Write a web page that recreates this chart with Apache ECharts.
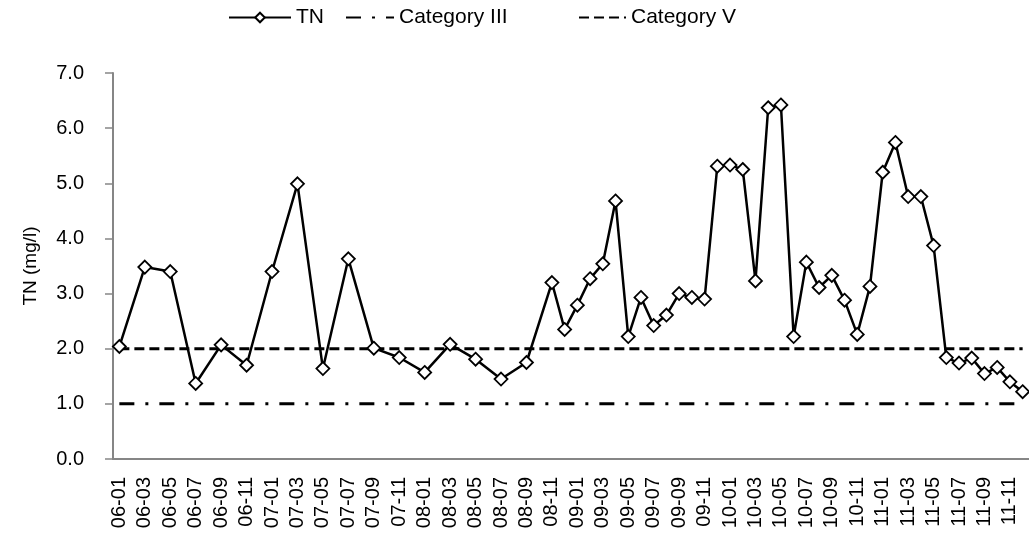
<!DOCTYPE html>
<html>
<head>
<meta charset="utf-8">
<script src="https://cdn.jsdelivr.net/npm/echarts@6/dist/echarts.min.js"></script>
<style>
html,body{margin:0;padding:0;background:#fff;}
#chart{width:1029px;height:533px;}
</style>
</head>
<body>
<div id="chart"></div>
<script>
var categories = [
 '06-01','06-02','06-03','06-04','06-05','06-06','06-07','06-08','06-09','06-10','06-11','06-12',
 '07-01','07-02','07-03','07-04','07-05','07-06','07-07','07-08','07-09','07-10','07-11','07-12',
 '08-01','08-02','08-03','08-04','08-05','08-06','08-07','08-08','08-09','08-10','08-11','08-12',
 '09-01','09-02','09-03','09-04','09-05','09-06','09-07','09-08','09-09','09-10','09-11','09-12',
 '10-01','10-02','10-03','10-04','10-05','10-06','10-07','10-08','10-09','10-10','10-11','10-12',
 '11-01','11-02','11-03','11-04','11-05','11-06','11-07','11-08','11-09','11-10','11-11','11-12'
];
var tnValues = [
 2.04, null, 3.48, null, 3.40, null, 1.37, null, 2.07, null, 1.70, null,
 3.40, null, 4.99, null, 1.64, null, 3.63, null, 2.01, null, 1.84, null,
 1.57, null, 2.08, null, 1.81, null, 1.45, null, 1.75, null, 3.20, 2.35,
 2.79, 3.27, 3.54, 4.68, 2.22, 2.93, 2.42, 2.61, 3.00, 2.93, 2.90, 5.31,
 5.33, 5.25, 3.23, 6.37, 6.42, 2.22, 3.57, 3.11, 3.33, 2.88, 2.26, 3.13,
 5.20, 5.74, 4.76, 4.76, 3.87, 1.84, 1.74, 1.83, 1.55, 1.66, 1.40, 1.22
];
var categoryIIILimit = 1.0;
var categoryVLimit = 2.0;
var yTicks = [0, 1, 2, 3, 4, 5, 6, 7];

var catIII = categories.map(function(){ return categoryIIILimit; });
var catV = categories.map(function(){ return categoryVLimit; });

var FONT = 'Liberation Sans, Arial, sans-serif';
var chart = echarts.init(document.getElementById('chart'), null, {renderer:'canvas'});
var legendText = {fontFamily: FONT, fontSize: 21, color: '#000'};
chart.setOption({
  animation: false,
  backgroundColor: '#fff',
  legend: [
    {data: ['TN'], left: 228, top: 7, padding: 0, itemWidth: 62, itemHeight: 12, itemGap: 3, textStyle: legendText},
    {data: ['Category III'], left: 345, top: 7, padding: 0, itemWidth: 48, itemHeight: 12, itemGap: 10,
     itemStyle: {opacity: 0}, textStyle: legendText},
    {data: ['Category V'], left: 578, top: 7, padding: 0, itemWidth: 47, itemHeight: 12, itemGap: 2,
     itemStyle: {opacity: 0}, textStyle: legendText}
  ],
  grid: {left: 113, top: 73, width: 919, height: 386, containLabel: false},
  xAxis: {
    type: 'category',
    data: categories,
    boundaryGap: true,
    axisLine: {lineStyle: {color: '#868686', width: 2}},
    axisTick: {interval: 1, length: 7, lineStyle: {color: '#868686', width: 1.5}},
    axisLabel: {interval: 1, rotate: 90, margin: 18, fontFamily: FONT, fontSize: 20, color: '#000'},
    splitLine: {show: false}
  },
  yAxis: {
    type: 'value',
    min: yTicks[0], max: yTicks[yTicks.length-1], interval: 1,
    name: 'TN (mg/l)',
    nameLocation: 'middle',
    nameRotate: 90,
    nameGap: 73,
    nameTextStyle: {fontFamily: FONT, fontSize: 19, color: '#000'},
    axisLine: {show: true, lineStyle: {color: '#868686', width: 2}},
    axisTick: {show: true, length: 8, lineStyle: {color: '#868686', width: 1.5}},
    axisLabel: {margin: 29, fontFamily: FONT, fontSize: 20, color: '#000', formatter: function(v){ return v.toFixed(1); }},
    splitLine: {show: false}
  },
  series: [
    {
      name: 'TN', type: 'line', data: tnValues, connectNulls: true,
      symbol: 'diamond', symbolSize: 13, showAllSymbol: true,
      lineStyle: {color: '#000', width: 2.5},
      itemStyle: {color: '#fff', borderColor: '#000', borderWidth: 1.8},
      z: 5
    },
    {
      name: 'Category III', type: 'line', data: catIII, symbol: 'none',
      lineStyle: {color: '#000', width: 3, type: [15, 11, 3, 11]},
      itemStyle: {color: '#000'}
    },
    {
      name: 'Category V', type: 'line', data: catV, symbol: 'none',
      lineStyle: {color: '#000', width: 3, type: [10, 5]},
      itemStyle: {color: '#000'}
    }
  ]
});
</script>
</body>
</html>
